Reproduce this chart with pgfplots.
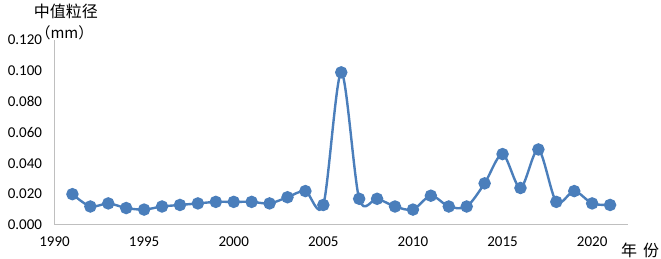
\documentclass[border=0pt]{standalone}
\usepackage{fontspec}
\setmainfont{Carlito}
\newfontfamily\cjk{Noto Sans CJK SC}
\usepackage{pgfplots}
\pgfplotsset{compat=1.18}
\definecolor{ser}{HTML}{4A7EBB}
\definecolor{axgray}{HTML}{BFBFBF}
\begin{document}
\begin{tikzpicture}
\begin{axis}[
  scale only axis,
  width=573.5pt, height=185pt,
  xmin=1990, xmax=2022,
  ymin=0, ymax=0.12,
  axis x line=bottom, axis y line=left,
  axis line style={axgray, line width=1pt, -},
  xtick={1990,1995,...,2020},
  ytick={0,0.02,...,0.121},
  major tick length=0pt,
  /pgf/number format/assume math mode=true,
  xticklabel style={/pgf/number format/set thousands separator={}, font=\fontsize{15}{17}\selectfont, yshift=-8pt},
  yticklabel style={/pgf/number format/.cd, fixed, fixed zerofill, precision=3, /tikz/.cd, font=\fontsize{15}{17}\selectfont, xshift=-9pt},
  scaled y ticks=false,
  clip=false,
]
\addplot[ser, line width=2.4pt, smooth, tension=0.5, mark=*, mark size=5pt, mark options={solid, fill=ser, draw=none}] coordinates {
(1991,0.020) (1992,0.012) (1993,0.014) (1994,0.011) (1995,0.010)
(1996,0.012) (1997,0.013) (1998,0.014) (1999,0.015) (2000,0.015)
(2001,0.015) (2002,0.014) (2003,0.018) (2004,0.022) (2005,0.013)
(2006,0.099) (2007,0.017) (2008,0.017) (2009,0.012) (2010,0.010)
(2011,0.019) (2012,0.012) (2013,0.012) (2014,0.027) (2015,0.046)
(2016,0.024) (2017,0.049) (2018,0.015) (2019,0.022) (2020,0.014)
(2021,0.013)};
\end{axis}
\path[use as bounding box] (current axis.south west) ++(-54.5pt,-34pt) rectangle ([shift={(33pt,40pt)}]current axis.north east);
\node[font=\cjk\fontsize{16}{18}\selectfont, anchor=center] at ([shift={(11.5pt,29pt)}]current axis.north west) {中值粒径};
\node[font=\cjk\fontsize{15}{17}\selectfont, anchor=center] at ([shift={(10pt,7pt)}]current axis.north west) {（mm）};
\node[font=\cjk\fontsize{16}{18}\selectfont, anchor=center] at ([shift={(12pt,-25pt)}]current axis.south east) {年\hspace{6pt}份};
\end{tikzpicture}
\end{document}
